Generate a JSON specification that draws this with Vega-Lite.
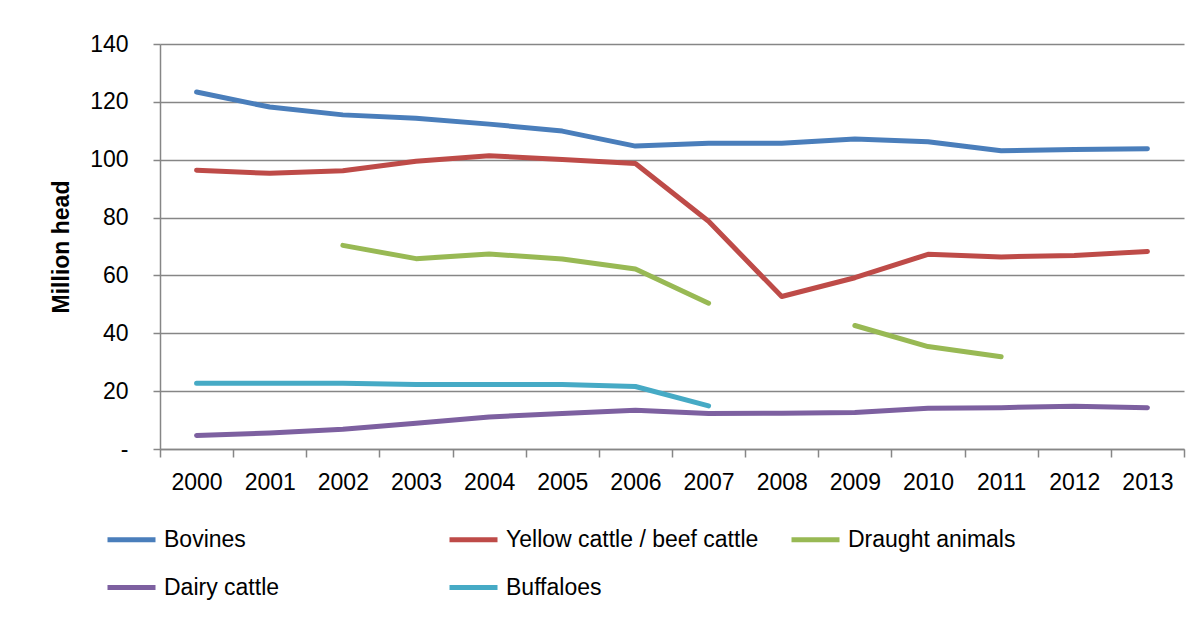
{
  "$schema": "https://vega.github.io/schema/vega-lite/v6.json",
  "width": 1024,
  "height": 405,
  "autosize": "none",
  "padding": {"left": 160, "top": 44, "right": 18, "bottom": 168},
  "background": "white",
  "config": {
    "font": "Liberation Sans",
    "view": {"stroke": null},
    "axis": {"labelFont": "Liberation Sans", "labelFontSize": 23, "labelColor": "#000000", "domainColor": "#868686", "tickColor": "#868686", "gridColor": "#868686", "domainWidth": 1.5, "tickWidth": 1.5, "gridWidth": 1.5}
  },
  "data": {
    "values": [
      {"year": "2000", "series": "Bovines", "seg": "a", "value": 123.4},
      {"year": "2001", "series": "Bovines", "seg": "a", "value": 118.2},
      {"year": "2002", "series": "Bovines", "seg": "a", "value": 115.5},
      {"year": "2003", "series": "Bovines", "seg": "a", "value": 114.3},
      {"year": "2004", "series": "Bovines", "seg": "a", "value": 112.3},
      {"year": "2005", "series": "Bovines", "seg": "a", "value": 109.9},
      {"year": "2006", "series": "Bovines", "seg": "a", "value": 104.7},
      {"year": "2007", "series": "Bovines", "seg": "a", "value": 105.7},
      {"year": "2008", "series": "Bovines", "seg": "a", "value": 105.7},
      {"year": "2009", "series": "Bovines", "seg": "a", "value": 107.2},
      {"year": "2010", "series": "Bovines", "seg": "a", "value": 106.2},
      {"year": "2011", "series": "Bovines", "seg": "a", "value": 103.1},
      {"year": "2012", "series": "Bovines", "seg": "a", "value": 103.5},
      {"year": "2013", "series": "Bovines", "seg": "a", "value": 103.8},
      {"year": "2000", "series": "Yellow cattle / beef cattle", "seg": "a", "value": 96.4},
      {"year": "2001", "series": "Yellow cattle / beef cattle", "seg": "a", "value": 95.3},
      {"year": "2002", "series": "Yellow cattle / beef cattle", "seg": "a", "value": 96.2},
      {"year": "2003", "series": "Yellow cattle / beef cattle", "seg": "a", "value": 99.5},
      {"year": "2004", "series": "Yellow cattle / beef cattle", "seg": "a", "value": 101.4},
      {"year": "2005", "series": "Yellow cattle / beef cattle", "seg": "a", "value": 100.1},
      {"year": "2006", "series": "Yellow cattle / beef cattle", "seg": "a", "value": 98.7},
      {"year": "2007", "series": "Yellow cattle / beef cattle", "seg": "a", "value": 78.7},
      {"year": "2008", "series": "Yellow cattle / beef cattle", "seg": "a", "value": 52.7},
      {"year": "2009", "series": "Yellow cattle / beef cattle", "seg": "a", "value": 59.2},
      {"year": "2010", "series": "Yellow cattle / beef cattle", "seg": "a", "value": 67.3},
      {"year": "2011", "series": "Yellow cattle / beef cattle", "seg": "a", "value": 66.4},
      {"year": "2012", "series": "Yellow cattle / beef cattle", "seg": "a", "value": 66.9},
      {"year": "2013", "series": "Yellow cattle / beef cattle", "seg": "a", "value": 68.3},
      {"year": "2002", "series": "Draught animals", "seg": "a", "value": 70.4},
      {"year": "2003", "series": "Draught animals", "seg": "a", "value": 65.8},
      {"year": "2004", "series": "Draught animals", "seg": "a", "value": 67.4},
      {"year": "2005", "series": "Draught animals", "seg": "a", "value": 65.7},
      {"year": "2006", "series": "Draught animals", "seg": "a", "value": 62.2},
      {"year": "2007", "series": "Draught animals", "seg": "a", "value": 50.4},
      {"year": "2009", "series": "Draught animals", "seg": "b", "value": 42.7},
      {"year": "2010", "series": "Draught animals", "seg": "b", "value": 35.4},
      {"year": "2011", "series": "Draught animals", "seg": "b", "value": 31.9},
      {"year": "2000", "series": "Dairy cattle", "seg": "a", "value": 4.7},
      {"year": "2001", "series": "Dairy cattle", "seg": "a", "value": 5.5},
      {"year": "2002", "series": "Dairy cattle", "seg": "a", "value": 6.8},
      {"year": "2003", "series": "Dairy cattle", "seg": "a", "value": 8.9},
      {"year": "2004", "series": "Dairy cattle", "seg": "a", "value": 11.1},
      {"year": "2005", "series": "Dairy cattle", "seg": "a", "value": 12.3},
      {"year": "2006", "series": "Dairy cattle", "seg": "a", "value": 13.4},
      {"year": "2007", "series": "Dairy cattle", "seg": "a", "value": 12.3},
      {"year": "2008", "series": "Dairy cattle", "seg": "a", "value": 12.4},
      {"year": "2009", "series": "Dairy cattle", "seg": "a", "value": 12.6},
      {"year": "2010", "series": "Dairy cattle", "seg": "a", "value": 14.1},
      {"year": "2011", "series": "Dairy cattle", "seg": "a", "value": 14.3},
      {"year": "2012", "series": "Dairy cattle", "seg": "a", "value": 14.8},
      {"year": "2013", "series": "Dairy cattle", "seg": "a", "value": 14.3},
      {"year": "2000", "series": "Buffaloes", "seg": "a", "value": 22.7},
      {"year": "2001", "series": "Buffaloes", "seg": "a", "value": 22.7},
      {"year": "2002", "series": "Buffaloes", "seg": "a", "value": 22.7},
      {"year": "2003", "series": "Buffaloes", "seg": "a", "value": 22.3},
      {"year": "2004", "series": "Buffaloes", "seg": "a", "value": 22.3},
      {"year": "2005", "series": "Buffaloes", "seg": "a", "value": 22.3},
      {"year": "2006", "series": "Buffaloes", "seg": "a", "value": 21.6},
      {"year": "2007", "series": "Buffaloes", "seg": "a", "value": 14.9}
    ]
  },
  "mark": {"type": "line", "strokeWidth": 5, "strokeCap": "round", "strokeJoin": "round"},
  "encoding": {
    "x": {
      "field": "year", "type": "ordinal",
      "scale": {"type": "band", "paddingInner": 0, "paddingOuter": 0},
      "axis": {"title": null, "labelAngle": 0, "tickBand": "extent", "tickSize": 8, "labelPadding": 14, "grid": false, "domain": true}
    },
    "y": {
      "field": "value", "type": "quantitative",
      "scale": {"domain": [0, 140], "nice": false},
      "axis": {"title": "Million head", "titleFont": "Liberation Sans", "titleFontSize": 23, "titleFontWeight": "bold", "titleColor": "#000000", "titlePadding": 16, "values": [0, 20, 40, 60, 80, 100, 120, 140], "labelExpr": "datum.value == 0 ? '-' : datum.label", "tickSize": 7, "labelPadding": 25, "grid": true}
    },
    "color": {
      "field": "series", "type": "nominal",
      "scale": {
        "domain": ["Bovines", "Yellow cattle / beef cattle", "Draught animals", "Dairy cattle", "Buffaloes"],
        "range": ["#4A7EBB", "#BE4B48", "#98B954", "#7D60A0", "#46AAC5"]
      },
      "legend": {
        "title": null, "orient": "none", "legendX": -55, "legendY": 469, "direction": "horizontal", "columns": 3, "gridAlign": "all",
        "symbolType": "stroke", "symbolSize": 2304, "symbolStrokeWidth": 5, "labelFont": "Liberation Sans", "labelFontSize": 23, "labelColor": "#000000",
        "labelOffset": 6, "columnPadding": 22, "rowPadding": 9, "padding": 0, "labelLimit": 400
      }
    },
    "detail": {"field": "seg"}
  }
}
